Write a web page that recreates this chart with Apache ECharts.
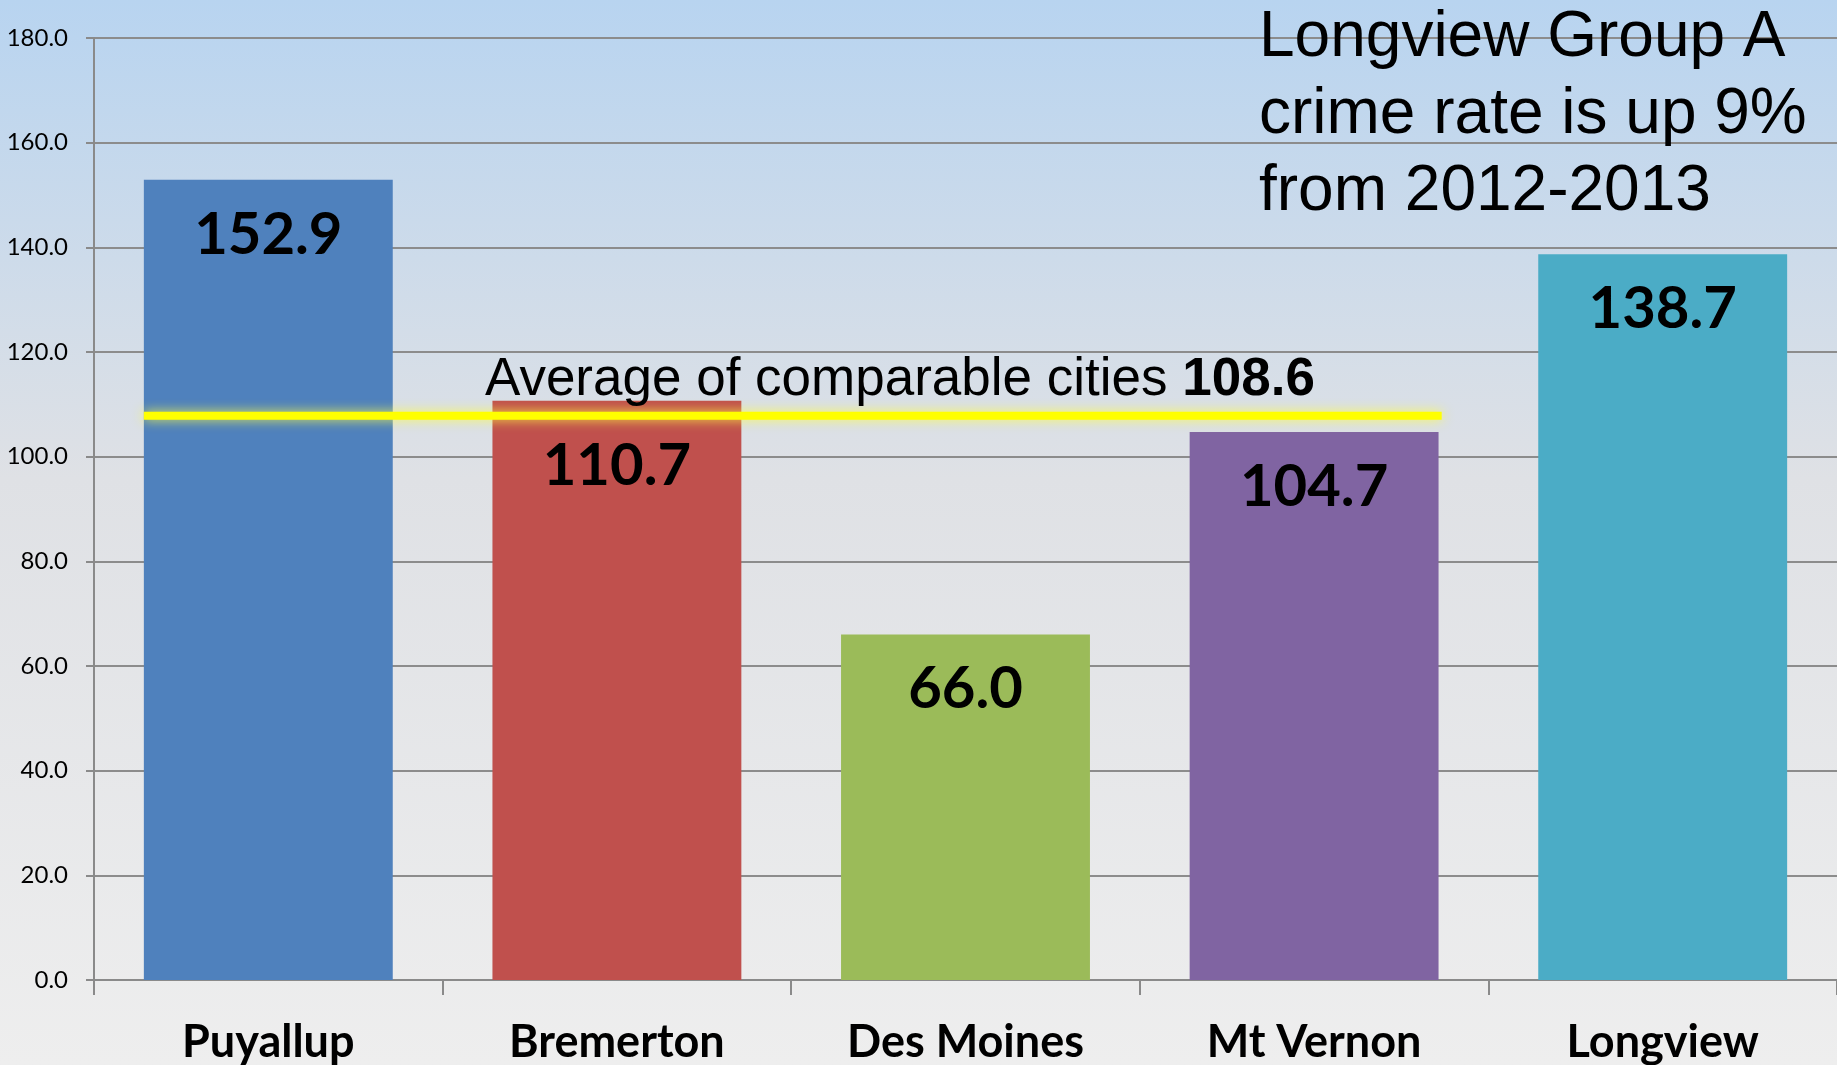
<!DOCTYPE html>
<html>
<head>
<meta charset="utf-8">
<script src="https://cdn.jsdelivr.net/npm/echarts@6/dist/echarts.min.js"></script>
<style>
  html, body { margin: 0; padding: 0; }
  #main { width: 1837px; height: 1065px; }
</style>
</head>
<body>
<div id="main"></div>
<script>
var cities = ['Puyallup', 'Bremerton', 'Des Moines', 'Mt Vernon', 'Longview'];
var rates = [152.9, 110.7, 66.0, 104.7, 138.7];
var barColors = ['#4F81BD', '#C0504D', '#9BBB59', '#8064A2', '#4BACC6'];
var average = 108.6;
// where the yellow line sits in the picture, and its span over the first four bars (category units, 0..5)
var avgLineLevel = 107.8;
var avgSpan = [0.143, 3.866];

var myChart = echarts.init(document.getElementById('main'));

var barData = rates.map(function (v, i) {
    var item = { value: v, itemStyle: { color: barColors[i] } };
    if (i === 1) {
        item.label = { distance: 37 };
    }
    return item;
});

var option = {
    animation: false,
    backgroundColor: {
        type: 'linear', x: 0, y: 0, x2: 0, y2: 1,
        colorStops: [
            { offset: 0, color: '#B8D4F0' },
            { offset: 0.45, color: '#DFE1E5' },
            { offset: 1, color: '#EEEEEE' }
        ]
    },
    title: [
        {
            text: 'Longview Group A\ncrime rate is up 9%\nfrom 2012-2013',
            left: 1254,
            top: -5,
            textStyle: {
                fontFamily: '"Liberation Sans", Arial, sans-serif',
                fontWeight: 'normal',
                fontSize: 64,
                lineHeight: 77,
                color: '#000'
            }
        },
        {
            text: '{n|Average of comparable cities }{b|' + average.toFixed(1) + '}',
            left: 480,
            top: 348,
            textStyle: {
                fontWeight: 'normal',
                rich: {
                    n: { fontFamily: '"Liberation Sans", Arial, sans-serif', fontSize: 53, lineHeight: 54, fontWeight: 'normal', color: '#000' },
                    b: { fontFamily: '"Liberation Sans", Arial, sans-serif', fontSize: 53, lineHeight: 54, fontWeight: 'bold', color: '#000' }
                }
            }
        }
    ],
    grid: {
        left: 94,
        right: 0,
        top: 38,
        bottom: 85,
        containLabel: false
    },
    xAxis: [
        {
            type: 'category',
            data: cities,
            axisLine: { lineStyle: { color: '#8A8A8A', width: 2 } },
            axisTick: { show: true, length: 15, alignWithLabel: false, lineStyle: { color: '#8A8A8A', width: 2 } },
            axisLabel: {
                margin: 40,
                fontFamily: 'Lato, sans-serif',
                fontWeight: 'bold',
                fontSize: 45,
                color: '#000'
            }
        },
        {
            type: 'value',
            min: 0,
            max: cities.length,
            show: false
        }
    ],
    yAxis: {
        type: 'value',
        min: 0,
        max: 180,
        interval: 20,
        axisLine: { show: true, lineStyle: { color: '#8A8A8A', width: 2 } },
        axisTick: { show: true, length: 8, lineStyle: { color: '#8A8A8A', width: 2 } },
        splitLine: { lineStyle: { color: '#8C8C8C', width: 2 } },
        axisLabel: {
            margin: 26,
            fontFamily: 'Lato, sans-serif',
            fontSize: 24,
            color: '#000',
            formatter: function (v) { return v.toFixed(1); }
        }
    },
    series: [
        {
            type: 'bar',
            data: barData,
            barCategoryGap: '28.6%',
            label: {
                show: true,
                position: 'insideTop',
                distance: 26,
                fontFamily: 'Lato, sans-serif',
                fontWeight: 'bold',
                fontSize: 58,
                lineHeight: 58,
                color: '#000',
                formatter: function (p) { return p.value.toFixed(1); }
            }
        },
        {
            type: 'line',
            xAxisIndex: 1,
            data: [[avgSpan[0], avgLineLevel], [avgSpan[1], avgLineLevel]],
            symbol: 'none',
            silent: true,
            z: 5,
            lineStyle: {
                color: '#FFFF00',
                width: 8,
                cap: 'butt',
                shadowColor: 'rgba(255, 255, 60, 0.9)',
                shadowBlur: 12
            }
        }
    ]
};

myChart.setOption(option);
</script>
</body>
</html>
